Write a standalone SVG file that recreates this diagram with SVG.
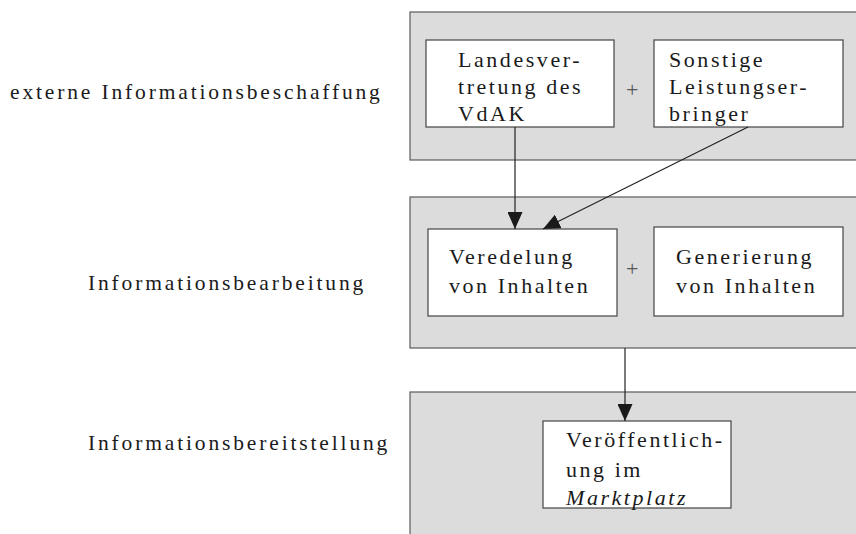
<svg xmlns="http://www.w3.org/2000/svg" width="856" height="534" viewBox="0 0 856 534">
  <style>
    .panel { fill: #dcdcdc; stroke: #5a5a5a; stroke-width: 1.2; }
    .box { fill: #ffffff; stroke: #444444; stroke-width: 1.2; }
    .conn { fill: none; stroke: #222222; stroke-width: 1.2; }
  </style>
  <defs>
    <marker id="arrow" viewBox="0 0 17 15" refX="17" refY="7.5" markerWidth="17" markerHeight="15" markerUnits="userSpaceOnUse" orient="auto">
      <path d="M0,0 L17,7.5 L0,15 Z" fill="#1a1a1a"/>
    </marker>
  </defs>

  <rect width="856" height="534" fill="#ffffff"/>

  <g font-family="Liberation Serif, Times New Roman, serif" fill="#1a1a1a">
    <!-- level labels -->
    <g id="labels" font-size="21.5" letter-spacing="2.85">
      <text x="10" y="99">externe Informationsbeschaffung</text>
      <text x="88" y="290">Informationsbearbeitung</text>
      <text x="88" y="450">Informationsbereitstellung</text>
    </g>

    <!-- shaded bands -->
    <g id="band-beschaffung">
      <rect class="panel" x="410" y="12" width="460" height="148"/>
    </g>
    <g id="band-bearbeitung">
      <rect class="panel" x="410" y="197" width="460" height="151"/>
    </g>
    <g id="band-bereitstellung">
      <rect class="panel" x="410" y="392" width="460" height="160"/>
    </g>

    <g font-size="22" letter-spacing="2.55">
      <!-- source nodes -->
      <g id="node-landesvertretung">
        <rect class="box" x="426" y="40" width="188" height="87"/>
        <text x="458" y="67">Landesver-</text>
        <text x="458" y="94">tretung des</text>
        <text x="458" y="121">VdAK</text>
      </g>
      <text x="626" y="97" fill="#555555" letter-spacing="0">+</text>
      <g id="node-sonstige">
        <rect class="box" x="654" y="40" width="189" height="87"/>
        <text x="669" y="67">Sonstige</text>
        <text x="669" y="94">Leistungser-</text>
        <text x="669" y="121">bringer</text>
      </g>

      <!-- processing nodes -->
      <g id="node-veredelung">
        <rect class="box" x="428" y="229" width="189" height="87"/>
        <text x="449" y="264">Veredelung</text>
        <text x="449" y="293">von Inhalten</text>
      </g>
      <text x="626" y="276" fill="#555555" letter-spacing="0">+</text>
      <g id="node-generierung">
        <rect class="box" x="654" y="227" width="189" height="89"/>
        <text x="676" y="264">Generierung</text>
        <text x="676" y="293">von Inhalten</text>
      </g>

      <!-- publication node -->
      <g id="node-veroeffentlichung">
        <rect class="box" x="543" y="421" width="188" height="87"/>
        <text x="566" y="447">Veröffentlich-</text>
        <text x="566" y="477">ung im</text>
        <text x="566" y="505" font-style="italic">Marktplatz</text>
      </g>
    </g>
  </g>

  <!-- connectors -->
  <g id="connectors">
    <line class="conn" x1="515" y1="127" x2="515" y2="229" marker-end="url(#arrow)"/>
    <line class="conn" x1="748" y1="127" x2="543" y2="229" marker-end="url(#arrow)"/>
    <line class="conn" x1="625" y1="348" x2="625" y2="421" marker-end="url(#arrow)"/>
  </g>
</svg>
